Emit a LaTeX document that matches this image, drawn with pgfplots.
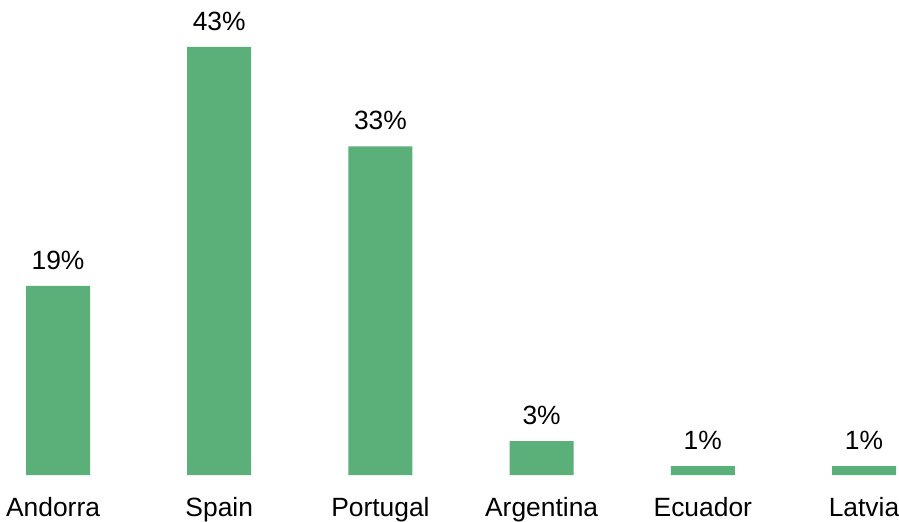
\documentclass[border=0pt]{standalone}
\usepackage{pgfplots}
\pgfplotsset{compat=1.18}
\usepackage{fontspec}
\setmainfont{Liberation Sans}
\definecolor{bargreen}{HTML}{5BAF78}

\begin{document}
\fontsize{13.2bp}{15bp}\selectfont
\begin{tikzpicture}
  % 1 px of the reference = 0.5bp
  \useasboundingbox (0,-23.5bp) rectangle (449.5bp,237.5bp);
  \begin{axis}[at={(0,0)},anchor=south west,scale only axis,
    width=449.5bp,height=237.5bp,
    xmin=-0.36,xmax=5.217,ymin=0,ymax=47.7,
    axis line style={draw=none},
    ytick=\empty,
    xtick={0,1,2,3,4,5},
    xticklabels={{\kern-5bp Andorra},Spain,Portugal,Argentina,Ecuador,Latvia},
    major tick length=0pt,
    xticklabel style={inner sep=0pt,anchor=north,yshift=-11bp,font=\fontsize{13.2bp}{15bp}\selectfont},
    clip=false]
    \addplot[ybar,bar width=32bp,fill=bargreen,draw=none,
      nodes near coords={\pgfmathprintnumber[assume math mode=true,fixed,precision=0]{\pgfplotspointmeta}\%},
      every node near coord/.append style={inner sep=0pt,anchor=south,yshift=8bp,
        font=\fontsize{13.2bp}{15bp}\selectfont,text=black}]
      coordinates {(0,19.0) (1,43.0) (2,33.0) (3,3.4) (4,0.9) (5,0.9)};
  \end{axis}
\end{tikzpicture}
\end{document}
